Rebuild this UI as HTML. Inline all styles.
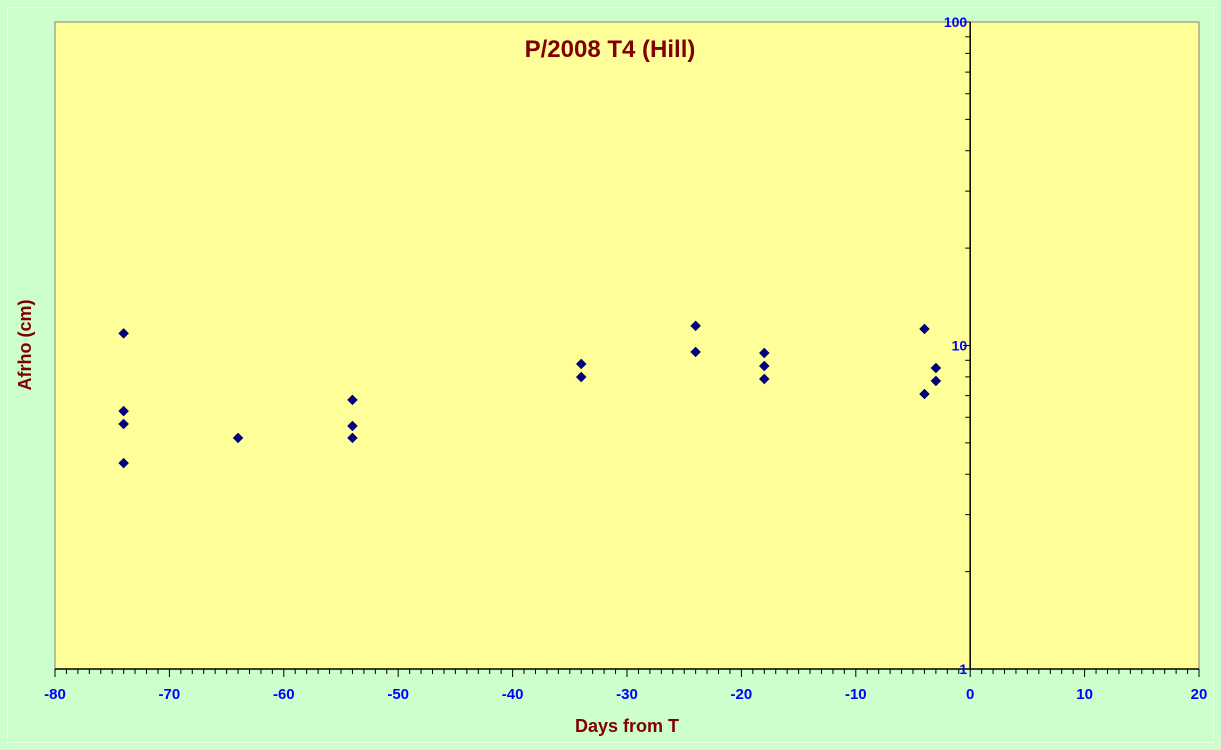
<!DOCTYPE html>
<html><head><meta charset="utf-8"><style>
html,body{margin:0;padding:0;background:#ccffcc;}
svg{display:block;font-family:"Liberation Sans",Arial,sans-serif;}
</style></head><body>
<svg id="chart" width="1221" height="750" xmlns="http://www.w3.org/2000/svg">
<rect x="0" y="0" width="1221" height="750" fill="#ccffcc"/>
<rect x="7.5" y="7.5" width="1206" height="735" fill="none" stroke="#e8ffe8"/>
<rect x="55" y="22" width="1144" height="647" fill="#ffff99" stroke="#808080"/>
<g id="axes"></g>
<g id="points"></g>
<text x="610" y="57" text-anchor="middle" font-size="24" font-weight="bold" fill="#800000">P/2008 T4 (Hill)</text>
<text x="627" y="732" text-anchor="middle" font-size="18" font-weight="bold" fill="#800000">Days from T</text>
<text transform="translate(31,345) rotate(-90)" text-anchor="middle" font-size="18" font-weight="bold" fill="#800000">Afrho (cm)</text>
</svg>
<script>
const days = [-74,-74,-74,-74,-64,-54,-54,-54,-34,-34,-24,-24,-18,-18,-18,-4,-4,-3,-3];
const afrho = [10.9,6.27,5.72,4.33,5.18,6.79,5.64,5.18,8.77,7.99,11.5,9.55,9.48,8.64,7.88,11.25,7.08,8.52,7.77];
const xTicks = [-80,-70,-60,-50,-40,-30,-20,-10,0,10,20];
const yTicks = [1,10,100];
const NS="http://www.w3.org/2000/svg";
const X0=55,X1=1199,Y0=669,Y1=22;
const xs=v=>X0+(v+80)/100*(X1-X0);
const ys=v=>Y0-(Math.log10(v))/2*(Y0-Y1);
const axes=document.getElementById('axes');
function mk(tag,attrs,parent){const e=document.createElementNS(NS,tag);for(const k in attrs)e.setAttribute(k,attrs[k]);parent.appendChild(e);return e;}
let l=mk('line',{x1:X0,x2:X1,y1:Y0,y2:Y0,stroke:'#000','stroke-width':1.5},axes);


for(let d=-80;d<=20;d++){
  const t=mk('line',{x1:xs(d),x2:xs(d),y1:Y0,y2:Y0+(d%10===0?8:5),stroke:'#000'},axes);
  
  
}
xTicks.forEach(v=>{
  const t=mk('text',{x:xs(v),y:Y0+30,'text-anchor':'middle','font-size':15,'font-weight':'bold',fill:'#0000ff'},axes);
  t.textContent=v;
  
  
});
const ax=xs(0);
l=mk('line',{x1:ax,x2:ax,y1:Y1,y2:Y0,stroke:'#000','stroke-width':1.5},axes);


for(let dec=0;dec<2;dec++){for(let m=1;m<=10;m++){
  const v=Math.pow(10,dec)*m;
  const t=mk('line',{x1:ax-(m===1||m===10?7:5),x2:ax,y1:ys(v),y2:ys(v),stroke:'#000'},axes);
  
  
}}
yTicks.forEach(v=>{
  const t=mk('text',{x:ax-3,y:ys(v)+5,'text-anchor':'end','font-size':14,'font-weight':'bold',fill:'#0000ff'},axes);
  t.textContent=v;
  
  
});
const pts=document.getElementById('points');
days.forEach((d,i)=>{
  const cx=xs(d),cy=ys(afrho[i]);
  const p=mk('polygon',{points:`${cx},${cy-5} ${cx+5},${cy} ${cx},${cy+5} ${cx-5},${cy}`,fill:'#000080',stroke:'#000040','stroke-width':0.5},pts);
  
  
});
</script>
</body></html>
